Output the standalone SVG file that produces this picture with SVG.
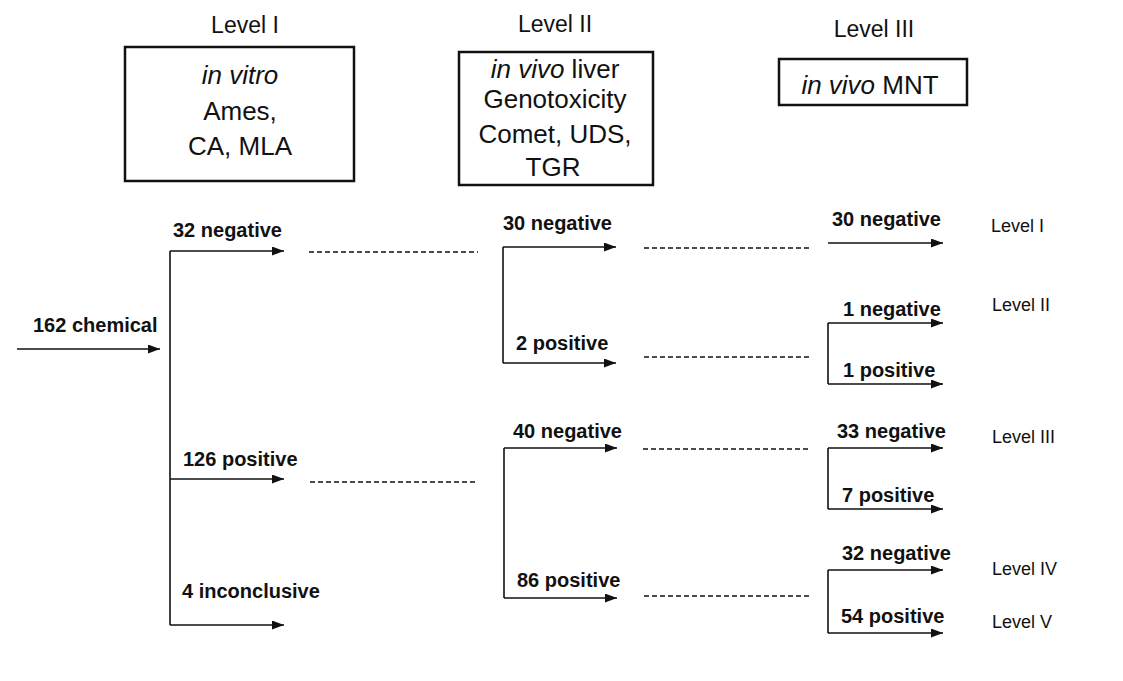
<svg xmlns="http://www.w3.org/2000/svg" width="1123" height="681" viewBox="0 0 1123 681">
<style>
.hdr{font-family:"Liberation Sans",Arial,sans-serif;font-size:23px;fill:#111;text-anchor:middle}
.box{fill:none;stroke:#111;stroke-width:2.5}
.bt{font-family:"Liberation Sans",Arial,sans-serif;font-size:26px;fill:#111;text-anchor:middle}
.it{font-style:italic}
.lbl{font-family:"Liberation Sans",Arial,sans-serif;font-size:20px;font-weight:bold;fill:#111}
.lvl{font-family:"Liberation Sans",Arial,sans-serif;font-size:18px;fill:#111}
.ln{fill:none;stroke:#111;stroke-width:1.6}
.ar{fill:none;stroke:#111;stroke-width:1.6;marker-end:url(#ah)}
.ds{fill:none;stroke:#111;stroke-width:1.6;stroke-dasharray:5 3}
</style>
<defs>
<marker id="ah" markerUnits="userSpaceOnUse" markerWidth="13" markerHeight="10" refX="12" refY="4.5" orient="auto">
<path d="M0,0 L12,4.5 L0,9 Z" fill="#111"/>
</marker>
</defs>
<rect width="1123" height="681" fill="#fff"/>
<g id="level1">
<text class="hdr" x="245" y="33">Level I</text>
<rect class="box" x="125" y="47" width="229" height="134"/>
<text class="bt it" x="240" y="84">in vitro</text>
<text class="bt" x="240" y="120">Ames,</text>
<text class="bt" x="240" y="155">CA, MLA</text>
</g>
<g id="level2">
<text class="hdr" x="555" y="32">Level II</text>
<rect class="box" x="459" y="52" width="194" height="133"/>
<text class="bt" x="555" y="78"><tspan class="it">in vivo</tspan> liver</text>
<text class="bt" x="555" y="108">Genotoxicity</text>
<text class="bt" x="555" y="143">Comet, UDS,</text>
<text class="bt" x="553" y="176">TGR</text>
</g>
<g id="level3">
<text class="hdr" x="874" y="37">Level III</text>
<rect class="box" x="779" y="59" width="188" height="46"/>
<text class="bt" x="870" y="94"><tspan class="it">in vivo</tspan> MNT</text>
</g>
<g id="connectors">
<line class="ar" x1="17" y1="349" x2="160" y2="349"/>
<line class="ln" x1="170" y1="251" x2="170" y2="625"/>
<line class="ar" x1="170" y1="251" x2="284" y2="251"/>
<line class="ar" x1="170" y1="479" x2="284" y2="479"/>
<line class="ar" x1="170" y1="625" x2="284" y2="625"/>
<line class="ds" x1="309" y1="252" x2="478" y2="252"/>
<line class="ds" x1="310" y1="482" x2="478" y2="482"/>
<line class="ln" x1="503" y1="247" x2="503" y2="363"/>
<line class="ar" x1="503" y1="247" x2="616" y2="247"/>
<line class="ar" x1="503" y1="363" x2="616" y2="363"/>
<line class="ln" x1="504" y1="448" x2="504" y2="598"/>
<line class="ar" x1="504" y1="448" x2="617" y2="448"/>
<line class="ar" x1="504" y1="598" x2="617" y2="598"/>
<line class="ds" x1="644" y1="248" x2="810" y2="248"/>
<line class="ds" x1="644" y1="357" x2="812" y2="357"/>
<line class="ds" x1="643" y1="449" x2="810" y2="449"/>
<line class="ds" x1="644" y1="596" x2="812" y2="596"/>
<line class="ar" x1="828" y1="243" x2="943" y2="243"/>
<line class="ln" x1="828" y1="323" x2="828" y2="384"/>
<line class="ar" x1="828" y1="323" x2="943" y2="323"/>
<line class="ar" x1="828" y1="384" x2="943" y2="384"/>
<line class="ln" x1="828" y1="448" x2="828" y2="509"/>
<line class="ar" x1="828" y1="448" x2="943" y2="448"/>
<line class="ar" x1="828" y1="509" x2="943" y2="509"/>
<line class="ln" x1="828" y1="570" x2="828" y2="633"/>
<line class="ar" x1="828" y1="570" x2="943" y2="570"/>
<line class="ar" x1="828" y1="633" x2="943" y2="633"/>
</g>
<g id="labels">
<text class="lbl" x="33" y="332">162 chemical</text>
<text class="lbl" x="173" y="237">32 negative</text>
<text class="lbl" x="183" y="466">126 positive</text>
<text class="lbl" x="182" y="598">4 inconclusive</text>
<text class="lbl" x="503" y="230">30 negative</text>
<text class="lbl" x="516" y="350">2 positive</text>
<text class="lbl" x="513" y="438">40 negative</text>
<text class="lbl" x="517" y="587">86 positive</text>
<text class="lbl" x="832" y="226">30 negative</text>
<text class="lbl" x="843" y="316">1 negative</text>
<text class="lbl" x="843" y="377">1 positive</text>
<text class="lbl" x="837" y="438">33 negative</text>
<text class="lbl" x="842" y="502">7 positive</text>
<text class="lbl" x="842" y="560">32 negative</text>
<text class="lbl" x="841" y="623">54 positive</text>
</g>
<g id="levels">
<text class="lvl" x="991" y="232">Level I</text>
<text class="lvl" x="992" y="311">Level II</text>
<text class="lvl" x="992" y="443">Level III</text>
<text class="lvl" x="992" y="575">Level IV</text>
<text class="lvl" x="992" y="628">Level V</text>
</g>
</svg>
